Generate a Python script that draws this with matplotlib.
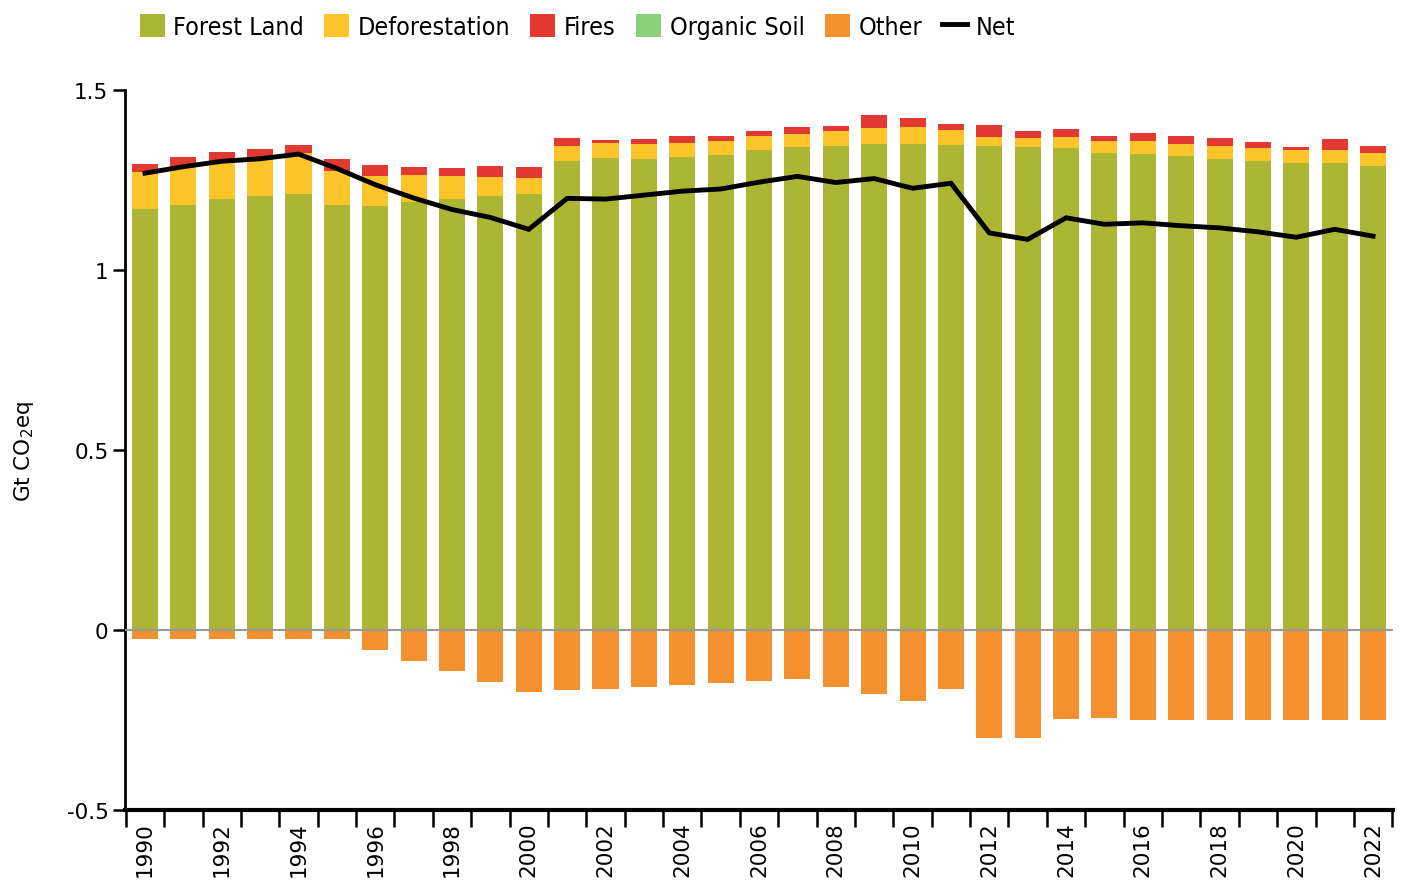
import matplotlib
matplotlib.use("Agg")
import matplotlib.pyplot as plt
import numpy as np

years = list(range(1990, 2023))

forest_land = [1.169, 1.181, 1.197, 1.206, 1.212, 1.181, 1.179, 1.190, 1.198, 1.206,
               1.212, 1.303, 1.312, 1.308, 1.315, 1.320, 1.334, 1.342, 1.345, 1.351,
               1.351, 1.348, 1.344, 1.342, 1.339, 1.325, 1.323, 1.316, 1.309, 1.304,
               1.297, 1.297, 1.290]
deforestation = [0.103, 0.106, 0.104, 0.104, 0.113, 0.095, 0.083, 0.074, 0.064, 0.052,
                 0.044, 0.041, 0.042, 0.042, 0.039, 0.039, 0.037, 0.037, 0.041, 0.043,
                 0.046, 0.041, 0.025, 0.025, 0.031, 0.034, 0.035, 0.035, 0.035, 0.035,
                 0.035, 0.035, 0.035]
fires = [0.023, 0.026, 0.027, 0.025, 0.023, 0.032, 0.031, 0.021, 0.021, 0.032,
         0.030, 0.023, 0.006, 0.015, 0.018, 0.013, 0.015, 0.018, 0.014, 0.037,
         0.026, 0.016, 0.034, 0.019, 0.021, 0.013, 0.023, 0.022, 0.023, 0.017,
         0.009, 0.031, 0.019]
organic_soil = [0.0] * 33
other = [-0.026, -0.026, -0.026, -0.026, -0.026, -0.026, -0.056, -0.085, -0.115, -0.144,
         -0.173, -0.168, -0.163, -0.157, -0.153, -0.147, -0.142, -0.137, -0.157, -0.177,
         -0.196, -0.164, -0.300, -0.301, -0.246, -0.245, -0.250, -0.250, -0.250, -0.250,
         -0.250, -0.250, -0.250]
net = [1.269, 1.287, 1.302, 1.309, 1.322, 1.282, 1.237, 1.200, 1.168, 1.146,
       1.113, 1.199, 1.197, 1.208, 1.219, 1.225, 1.244, 1.260, 1.243, 1.254,
       1.227, 1.241, 1.103, 1.085, 1.145, 1.127, 1.131, 1.123, 1.117, 1.106,
       1.091, 1.113, 1.094]

colors = {
    "Forest Land": "#adb634",
    "Deforestation": "#fdc52a",
    "Fires": "#e23a33",
    "Organic Soil": "#8bd17c",
    "Other": "#f4902e",
}

plt.rcParams["font.family"] = ["DejaVu Sans"]

fig = plt.figure(figsize=(14.02, 8.87), dpi=100)
ax = fig.add_axes([0.0892, 0.0857, 0.9044, 0.8117])

x = np.arange(len(years))
w = 0.68

pos_series = [("Forest Land", forest_land), ("Deforestation", deforestation),
              ("Fires", fires), ("Organic Soil", organic_soil)]
bottom = np.zeros(len(years))
handles = []
for name, vals in pos_series:
    v = np.array(vals)
    h = ax.bar(x, v, w, bottom=bottom, color=colors[name], label=name, zorder=2,
               edgecolor="none")
    handles.append(h)
    bottom = bottom + v
h_other = ax.bar(x, other, w, color=colors["Other"], label="Other", zorder=2,
                 edgecolor="none")
handles.append(h_other)

ax.axhline(0, color="#999999", lw=1.5, zorder=3)
h_net, = ax.plot(x, net, color="black", lw=3.5, zorder=4, label="Net",
                 solid_joinstyle="miter")
handles.append(h_net)

ax.set_xlim(-0.52, 32.52)
ax.set_ylim(-0.5, 1.5)
ax.set_yticks([-0.5, 0, 0.5, 1, 1.5])
ax.set_yticklabels(["-0.5", "0", "0.5", "1", "1.5"])
ax.set_xticks(x[::2])
ax.set_xticklabels([str(y) for y in years[::2]], rotation=90)
ax.set_xticks(np.arange(-0.5, len(years), 1.0), minor=True)

ax.tick_params(axis="x", which="major", length=0, pad=8, labelsize=15.5)
ax.tick_params(axis="x", which="minor", length=12, width=1.8, direction="out")
ax.tick_params(axis="y", which="major", length=9, width=1.8, direction="out",
               labelsize=15.5, pad=3)

for s in ("top", "right"):
    ax.spines[s].set_visible(False)
ax.spines["left"].set_linewidth(2)
ax.spines["bottom"].set_linewidth(3)

ax.set_ylabel("Gt CO$_2$eq", fontsize=15.5)
ax.yaxis.set_label_coords(-0.07, 0.5)

leg = fig.legend(handles=handles, loc="upper left", bbox_to_anchor=(0.0835, 1.008),
                 ncol=6, frameon=False, handlelength=1.0,
                 handleheight=1.0, handletextpad=0.35, columnspacing=0.8,
                 prop={"family": "DejaVu Sans", "stretch": "condensed", "size": 18})

fig.savefig("out.png", dpi=100)
